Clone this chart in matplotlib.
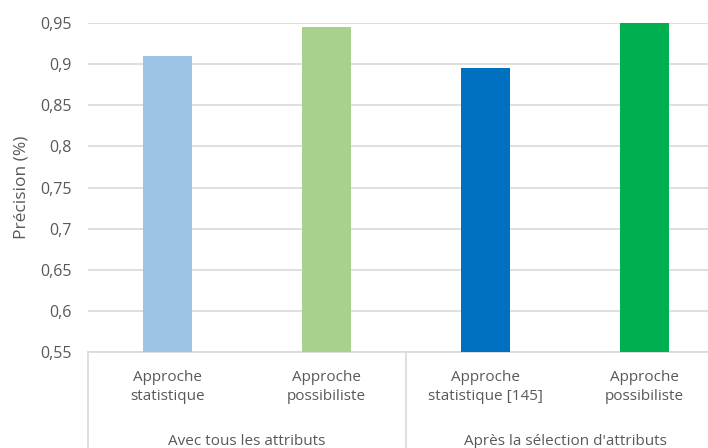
import matplotlib.pyplot as plt
from matplotlib.lines import Line2D

plt.rcParams['font.family'] = ['Open Sans', 'DejaVu Sans']

methods = ['Approche\nstatistique', 'Approche\npossibiliste',
           'Approche\nstatistique [145]', 'Approche\npossibiliste']
groups = ['Avec tous les attributs', "Après la sélection d'attributs"]
precision = [0.91, 0.945, 0.895, 0.95]
colors = ['#9DC3E6', '#A9D18E', '#0070C0', '#00B050']
yticks = [0.55, 0.6, 0.65, 0.7, 0.75, 0.8, 0.85, 0.9, 0.95]
ytick_labels = ['0,55', '0,6', '0,65', '0,7', '0,75', '0,8', '0,85', '0,9', '0,95']

txt = '#595959'
grid = '#D9D9D9'
base = 0.55

fig = plt.figure(figsize=(7.08, 4.48), dpi=100)
ax = fig.add_axes([88 / 708, 1 - 352 / 448, 636 / 708, 329 / 448])

x = range(len(precision))
ax.bar(x, [p - base for p in precision], width=0.31, bottom=base,
       color=colors, zorder=3, clip_on=False)
ax.set_xlim(-0.5, len(precision) - 0.5)
ax.set_ylim(base, 0.95)
ax.set_yticks(yticks)
ax.set_yticklabels(ytick_labels, fontsize=11.5, color=txt)
ax.yaxis.grid(True, color=grid, linewidth=1.2, zorder=0)
ax.tick_params(axis='y', length=0, pad=12)
ax.set_xticks([])
for s in ['top', 'right', 'left']:
    ax.spines[s].set_visible(False)
ax.spines['bottom'].set_color(grid)
ax.spines['bottom'].set_linewidth(1.2)
ax.set_ylabel('Précision (%)', fontsize=12.5, color=txt)
ax.yaxis.set_label_coords(-59 / 636, 0.5)

# category labels and group labels below the axis
for i, m in enumerate(methods):
    ax.annotate(m, xy=(i, base), xytext=(0, -13), textcoords='offset points',
                ha='center', va='top', fontsize=11, color=txt,
                linespacing=1.35, annotation_clip=False)
for g, lab in enumerate(groups):
    ax.annotate(lab, xy=(2 * g + 0.5, base), xytext=(0, -59), textcoords='offset points',
                ha='center', va='top', fontsize=11, color=txt, annotation_clip=False)

# separators between groups
for xs in [-0.5, 1.5, 3.5]:
    ax.add_line(Line2D([xs, xs], [base, base - 0.13], color=grid, linewidth=1.2,
                       clip_on=False))

fig.savefig('out.png', dpi=100)
